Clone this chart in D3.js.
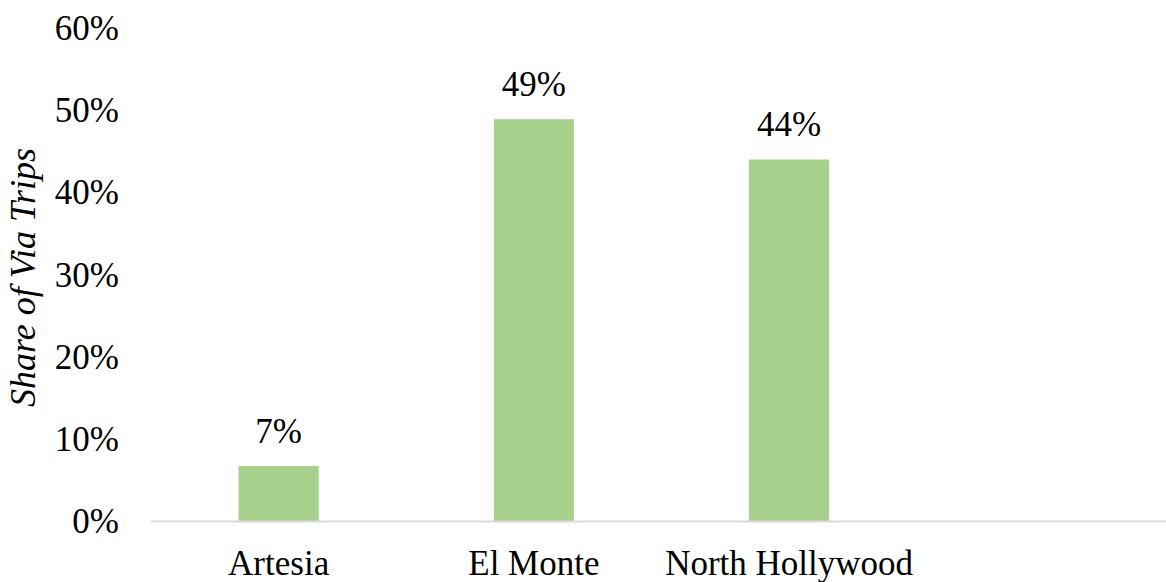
<!DOCTYPE html>
<html>
<head>
<meta charset="utf-8">
<script src="https://cdn.jsdelivr.net/npm/d3@7"></script>
<style>
  html, body { margin: 0; padding: 0; background: #fff; }
  svg { display: block; }
  text { font-family: "Liberation Serif", "Times New Roman", serif; fill: #000; }
</style>
</head>
<body>
<svg id="chart" width="1166" height="582"></svg>
<script>
// Share of Via trips by station area
const categories = ["Artesia", "El Monte", "North Hollywood"];
const shares = [0.067, 0.489, 0.44];
const tickValues = [0, 0.1, 0.2, 0.3, 0.4, 0.5, 0.6];
const axisTitle = "Share of Via Trips";

const width = 1166, height = 582;
const plot = { left: 151, right: 1166, top: 28, bottom: 521 };
const slots = 4; // three stations plus one empty slot on the right
const step = (1172 - plot.left) / slots;

const svg = d3.select("#chart");

const x = d3.scaleBand()
  .domain(categories)
  .range([plot.left, plot.left + step * categories.length])
  .paddingInner(0.686)
  .paddingOuter(0.343);

const y = d3.scaleLinear()
  .domain([0, 0.6])
  .range([plot.bottom, plot.top]);

const pct = d3.format(".0%");
const fontSize = 35;

// y tick labels (no axis line or tick marks)
const yAxis = d3.axisLeft(y)
  .tickValues(tickValues)
  .tickFormat(pct)
  .tickSize(0)
  .tickPadding(32);

svg.append("g")
  .attr("transform", `translate(${plot.left},0)`)
  .call(yAxis)
  .call(g => g.select(".domain").remove())
  .call(g => g.selectAll("text")
    .attr("font-family", "Liberation Serif, Times New Roman, serif")
    .attr("font-size", fontSize)
    .attr("fill", "#000")
    .attr("dy", "0.33em"));

// bars
svg.append("g")
  .selectAll("rect")
  .data(categories)
  .join("rect")
  .attr("x", d => x(d))
  .attr("width", x.bandwidth())
  .attr("y", (d, i) => y(shares[i]))
  .attr("height", (d, i) => y(0) - y(shares[i]))
  .attr("fill", "#a9d18e");

// value labels
svg.append("g")
  .selectAll("text")
  .data(categories)
  .join("text")
  .attr("x", d => x(d) + x.bandwidth() / 2)
  .attr("y", (d, i) => y(shares[i]) - 23)
  .attr("text-anchor", "middle")
  .attr("font-size", fontSize)
  .text((d, i) => pct(shares[i]));

// x axis baseline and category labels
const xAxis = d3.axisBottom(x).tickSize(0).tickPadding(0);
const gx = svg.append("g")
  .attr("transform", `translate(0,${y(0)})`)
  .call(xAxis);
gx.select(".domain").remove();
gx.selectAll("text")
  .attr("font-family", "Liberation Serif, Times New Roman, serif")
  .attr("font-size", fontSize)
  .attr("fill", "#000")
  .attr("y", 54)
  .attr("dy", 0);

svg.append("line")
  .attr("x1", plot.left)
  .attr("x2", plot.right)
  .attr("y1", y(0) + 0.5)
  .attr("y2", y(0) + 0.5)
  .attr("stroke", "#d9d9d9")
  .attr("stroke-width", 2);

// y axis title
svg.append("text")
  .attr("transform", `translate(35,${(plot.top + plot.bottom) / 2 + 3}) rotate(-90)`)
  .attr("text-anchor", "middle")
  .attr("font-style", "italic")
  .attr("font-size", 36)
  .text(axisTitle);
</script>
</body>
</html>
